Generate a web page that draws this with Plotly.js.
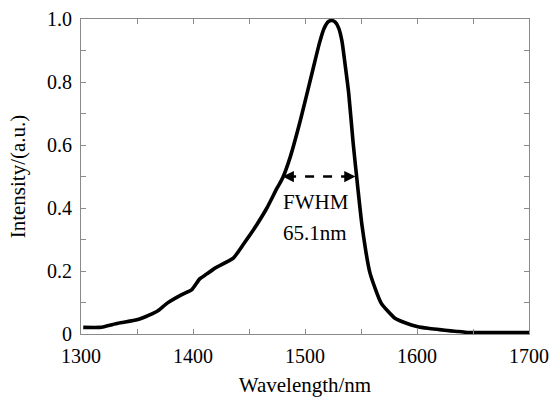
<!DOCTYPE html>
<html>
<head>
<meta charset="utf-8">
<script src="https://cdn.plot.ly/plotly-3.0.1.min.js"></script>
<style>
html,body{margin:0;padding:0;background:#fff;}
#chart{width:549px;height:397px;}
</style>
</head>
<body>
<div id="chart"></div>
<script>
// Data
const wavelength = [1302,1317,1333,1350,1357,1368,1377,1390,1399,1406,1412,1420,1436,1445,1454,1466,1475,1480,1487,1496,1507,1513,1517,1521,1524,1527,1530,1533,1536,1539,1543,1547,1551,1558,1568,1580,1590,1600,1610,1620,1630,1637,1645,1660,1680,1700];
const intensity  = [0.021,0.021,0.034,0.045,0.054,0.072,0.098,0.125,0.141,0.175,0.19,0.21,0.241,0.285,0.331,0.40,0.463,0.495,0.564,0.68,0.839,0.925,0.97,0.992,0.995,0.99,0.972,0.93,0.85,0.765,0.606,0.469,0.342,0.194,0.098,0.051,0.035,0.024,0.018,0.014,0.010,0.008,0.005,0.005,0.005,0.005];
const yTickVals  = [0, 0.2, 0.4, 0.6, 0.8, 1.0];
const yTickText  = ['0', '0.2', '0.4', '0.6', '0.8', '1.0'];
const xTickVals  = [1300, 1400, 1500, 1600, 1700];
const xTickText  = ['1300', '1400', '1500', '1600', '1700'];
const fwhmLeft = 1480, fwhmRight = 1545.1, halfMax = 0.5;
const labelLines = ['FWHM', '65.1nm'];

const font = {family: '"Liberation Serif", "Times New Roman", serif', size: 21, color: '#000'};
const tickFont = {family: '"Liberation Serif", "Times New Roman", serif', size: 20, color: '#000'};
const axisColor = '#8a8a8a';

const trace = {
  x: wavelength, y: intensity, type: 'scatter', mode: 'lines',
  line: {color: '#000', width: 3.6, shape: 'spline', smoothing: 0.5},
  cliponaxis: false, hoverinfo: 'skip'
};

const layout = {
  width: 549, height: 397,
  margin: {l: 81, r: 20, t: 19, b: 63},
  paper_bgcolor: '#fff', plot_bgcolor: '#fff',
  font: font,
  showlegend: false,
  xaxis: {
    range: [1300, 1700], tickvals: xTickVals, ticktext: xTickText,
    ticks: 'inside', ticklen: 5, tickcolor: axisColor, tickwidth: 1,
    minor: {dtick: 50, ticks: 'inside', ticklen: 5, tickcolor: axisColor, tickwidth: 1, showgrid: false},
    showline: true, linecolor: axisColor, linewidth: 1, mirror: 'ticks',
    showgrid: false, zeroline: false,
    tickfont: tickFont, ticklabelstandoff: 4,
    title: {text: 'Wavelength/nm', font: font, standoff: 14}
  },
  yaxis: {
    range: [0, 1], tickvals: yTickVals, ticktext: yTickText,
    ticks: 'inside', ticklen: 5, tickcolor: axisColor, tickwidth: 1,
    minor: {dtick: 0.1, ticks: 'inside', ticklen: 5, tickcolor: axisColor, tickwidth: 1, showgrid: false},
    showline: true, linecolor: axisColor, linewidth: 1, mirror: 'ticks',
    showgrid: false, zeroline: false,
    tickfont: tickFont, ticklabelstandoff: 4,
    title: {text: 'Intensity/(a.u.)', font: font, standoff: 15}
  },
  shapes: [{
    type: 'line', xref: 'x', yref: 'y',
    x0: fwhmLeft + 4, x1: fwhmRight - 4, y0: halfMax, y1: halfMax,
    line: {color: '#000', width: 2.5, dash: 'dash'}
  }],
  annotations: [
    {x: fwhmLeft, y: halfMax, ax: fwhmLeft + 7, ay: halfMax, xref: 'x', yref: 'y', axref: 'x', ayref: 'y',
     text: '', showarrow: true, arrowhead: 2, arrowsize: 0.9, arrowwidth: 2.5, arrowcolor: '#000'},
    {x: fwhmRight, y: halfMax, ax: fwhmRight - 7, ay: halfMax, xref: 'x', yref: 'y', axref: 'x', ayref: 'y',
     text: '', showarrow: true, arrowhead: 2, arrowsize: 0.9, arrowwidth: 2.5, arrowcolor: '#000'},
    {x: 1509.5, y: 0.418, xref: 'x', yref: 'y', text: labelLines[0], showarrow: false, font: font},
    {x: 1509, y: 0.32, xref: 'x', yref: 'y', text: labelLines[1], showarrow: false, font: font}
  ]
};

Plotly.newPlot('chart', [trace], layout, {staticPlot: true, displayModeBar: false});
</script>
</body>
</html>
